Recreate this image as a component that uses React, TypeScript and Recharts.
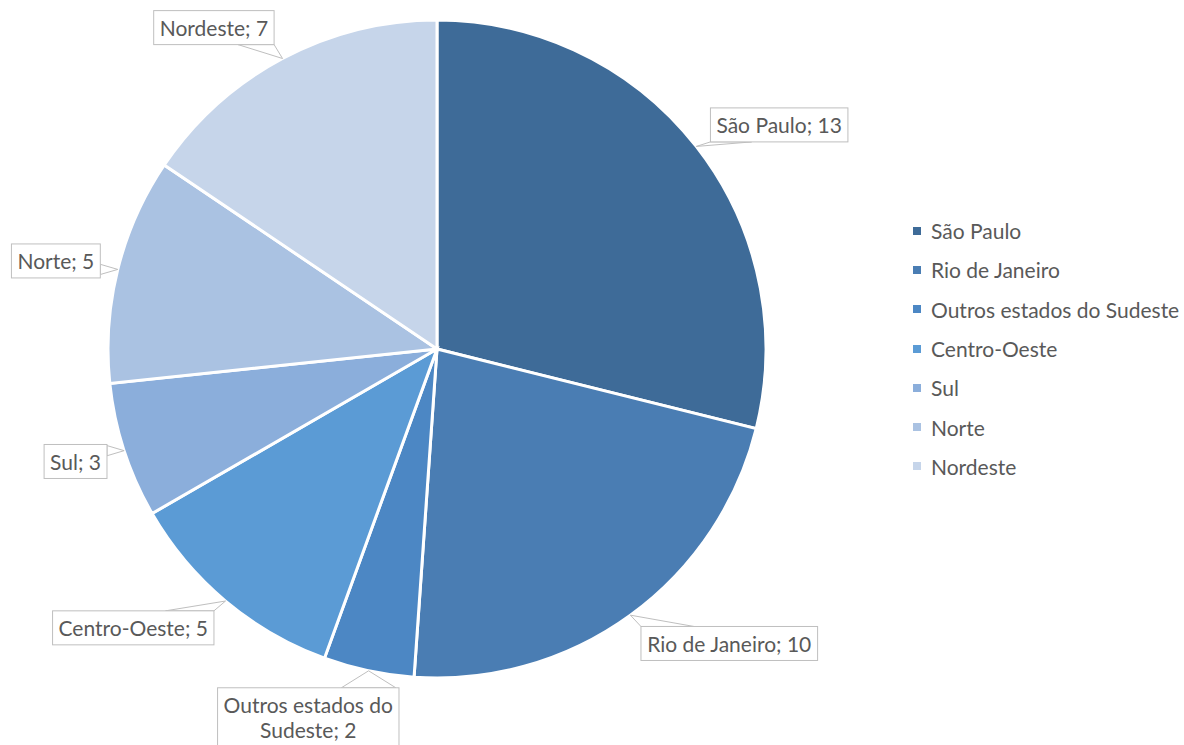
import React from 'react';
import { PieChart, Pie, Cell, Legend } from 'recharts';

// Participantes por região
const categories = [
  'São Paulo',
  'Rio de Janeiro',
  'Outros estados do Sudeste',
  'Centro-Oeste',
  'Sul',
  'Norte',
  'Nordeste',
];
const values = [13, 10, 2, 5, 3, 5, 7];
const colors = ['#3E6B98', '#4A7DB3', '#4C87C4', '#5B9BD5', '#8BAEDB', '#AAC2E2', '#C6D5EA'];

const data = categories.map((name, i) => ({ name, value: values[i] }));

const FONT = 'Lato, "Open Sans", sans-serif';
const FONT_SIZE = 21;
const TEXT_COLOR = '#595959';
const BORDER = '#BFBFBF';
const RAD = Math.PI / 180;

let ctx: CanvasRenderingContext2D | null = null;
const measure = (s: string) => {
  if (!ctx) {
    ctx = document.createElement('canvas').getContext('2d');
  }
  if (!ctx) return s.length * FONT_SIZE * 0.5;
  ctx.font = `${FONT_SIZE}px ${FONT}`;
  return ctx.measureText(s).width;
};

const wrap = (s: string, maxW: number) => {
  const words = s.split(' ');
  const lines: string[] = [];
  let cur = '';
  words.forEach((w) => {
    const next = cur ? cur + ' ' + w : w;
    if (cur && measure(next) > maxW) {
      lines.push(cur);
      cur = w;
    } else {
      cur = next;
    }
  });
  if (cur) lines.push(cur);
  return lines;
};

const CalloutLabel = (props: any) => {
  const { cx, cy, midAngle, outerRadius, name, value } = props;
  const dx = Math.cos(-midAngle * RAD);
  const dy = Math.sin(-midAngle * RAD);
  const tipX = cx + outerRadius * dx;
  const tipY = cy + outerRadius * dy;
  const ax = cx + (outerRadius + 18) * dx;
  const ay = cy + (outerRadius + 18) * dy;

  const lines = wrap(`${name}; ${value}`, 190);
  const textW = Math.max(...lines.map(measure));
  const w = textW + 12;
  const lineH = 25;
  const h = lines.length * lineH + 9;

  const bx = ax + (w / 2) * Math.sign(dx) * Math.min(1, Math.abs(dx) * 3) - w / 2;
  const by = ay + (h / 2) * dy - h / 2;

  // callout wedge base on the box side facing the pie
  let base: [number, number][];
  if (tipY > by + h || tipY < by) {
    const ey = tipY > by + h ? by + h : by;
    const bw = w * 0.3;
    const c = Math.min(Math.max(tipX, bx + bw / 2), bx + w - bw / 2);
    base = [[c - bw / 2, ey], [c + bw / 2, ey]];
  } else {
    const ex = tipX > bx + w ? bx + w : bx;
    const bh = h * 0.3;
    const c = Math.min(Math.max(tipY, by + bh / 2), by + h - bh / 2);
    base = [[ex, c - bh / 2], [ex, c + bh / 2]];
  }
  const pts = [[tipX, tipY], base[0], base[1]].map((p) => p.join(',')).join(' ');

  const midY = by + h / 2;
  const firstY = midY - ((lines.length - 1) * lineH) / 2;

  return (
    <g>
      <polygon points={pts} fill="#fff" stroke={BORDER} strokeWidth={1} />
      <rect x={bx} y={by} width={w} height={h} fill="#fff" stroke={BORDER} strokeWidth={1} />
      {lines.map((ln, i) => (
        <text
          key={i}
          x={bx + w / 2}
          y={firstY + i * lineH}
          textAnchor="middle"
          dominantBaseline="central"
          fontFamily={FONT}
          fontSize={FONT_SIZE}
          fill={TEXT_COLOR}
        >
          {ln}
        </text>
      ))}
    </g>
  );
};

// legend keeps the series order of the data
const renderLegend = () => (
  <div>
    {categories.map((name, i) => (
      <div key={name} style={{ display: 'flex', alignItems: 'center', height: 39.3 }}>
        <span
          style={{ width: 8, height: 8, background: colors[i], marginRight: 10, display: 'inline-block' }}
        />
        <span style={{ fontFamily: FONT, fontSize: FONT_SIZE, color: TEXT_COLOR, whiteSpace: 'nowrap' }}>
          {name}
        </span>
      </div>
    ))}
  </div>
);

export default function App() {
  return (
    <div style={{ position: 'absolute', left: 0, top: 0, background: '#fff' }}>
      <PieChart width={1184} height={745} margin={{ top: 0, right: 0, bottom: 0, left: 0 }}>
        <Pie
          data={data}
          dataKey="value"
          nameKey="name"
          cx={437}
          cy={349}
          outerRadius={329}
          startAngle={90}
          endAngle={-270}
          stroke="#fff"
          strokeWidth={3}
          label={CalloutLabel}
          labelLine={false}
          isAnimationActive={false}
        >
          {data.map((d, i) => (
            <Cell key={d.name} fill={colors[i]} />
          ))}
        </Pie>
        <Legend
          layout="vertical"
          content={renderLegend}
          wrapperStyle={{ left: 913, top: 211, width: 271 }}
        />
      </PieChart>
    </div>
  );
}
